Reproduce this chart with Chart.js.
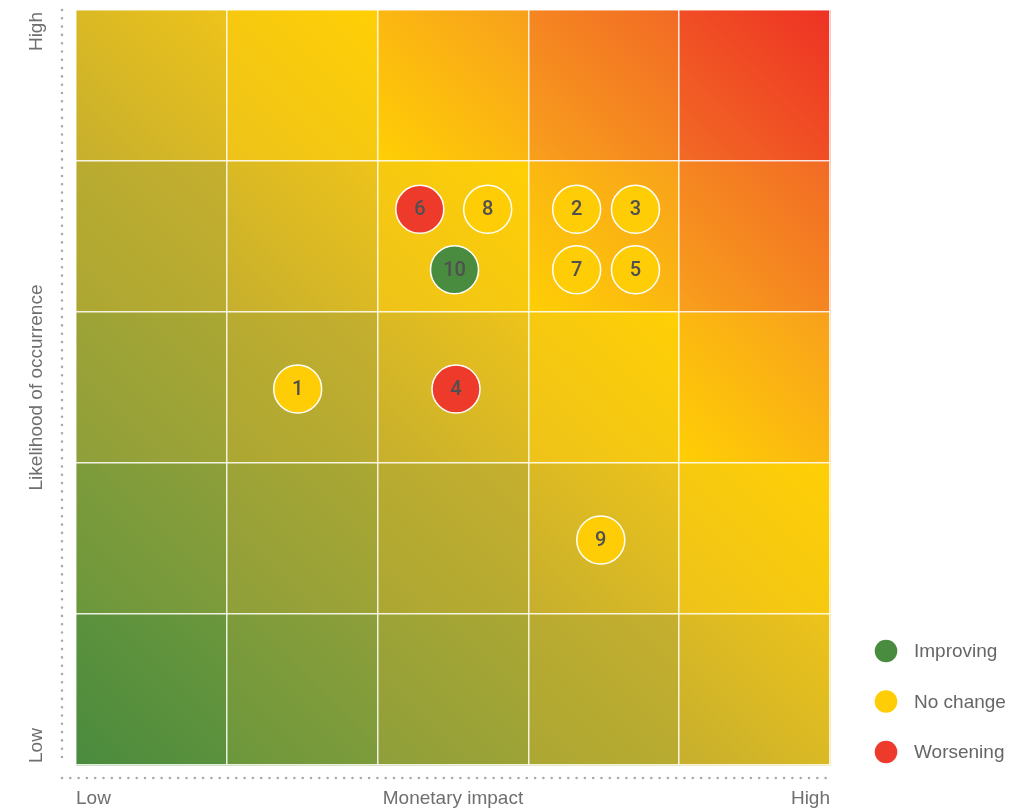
<!DOCTYPE html>
<html>
<head>
<meta charset="utf-8">
<script src="https://cdn.jsdelivr.net/npm/chart.js@4.4.0/dist/chart.umd.min.js"></script>
<style>
  html, body { margin: 0; padding: 0; background: #fff; }
  #wrap { width: 1026px; height: 811px; }
</style>
</head>
<body>
<div id="wrap"><canvas id="matrix" width="1026" height="811"></canvas></div>
<script>
// risk ids and their position on the matrix (0-5 on both axes)
var riskIds = ['1', '2', '3', '4', '5', '6', '7', '8', '9', '10'];
var impact = [1.47, 3.32, 3.71, 2.52, 3.71, 2.28, 3.32, 2.73, 3.48, 2.51];
var likelihood = [2.49, 3.68, 3.68, 2.49, 3.28, 3.68, 3.28, 3.68, 1.49, 3.28];
var trend = ['No change', 'No change', 'No change', 'Worsening', 'No change',
             'Worsening', 'No change', 'No change', 'No change', 'Improving'];

var trendNames = ['Improving', 'No change', 'Worsening'];
var trendColors = ['#4a8c3f', '#ffcd05', '#ee3a2a'];

var axisLow = 'Low';
var axisHigh = 'High';
var xTitle = 'Monetary impact';
var yTitle = 'Likelihood of occurrence';

// colour steps for the heat cells, from green (low/low) to red (high/high)
var heat = ['#4a8b3e', '#6b973c', '#8e9f3a', '#aba733', '#c6af2e',
            '#eec31a', '#ffcf05', '#f8a01c', '#f26a25', '#ee3224'];

var textFont = '"Helvetica Neue", "Liberation Sans", Arial, sans-serif';

// one dataset per trend so colours follow the legend
var datasets = trendNames.map(function (name, k) {
  var pts = [];
  for (var i = 0; i < riskIds.length; i++) {
    if (trend[i] === name) pts.push({ x: impact[i], y: likelihood[i], id: riskIds[i] });
  }
  return {
    label: name,
    data: pts,
    backgroundColor: trendColors[k],
    borderColor: '#ffffff',
    borderWidth: 1.5,
    pointRadius: 24,
    pointHoverRadius: 24
  };
});

var matrixPlugin = {
  id: 'matrix',
  beforeDraw: function (chart) {
    var ctx = chart.ctx, xs = chart.scales.x, ys = chart.scales.y;
    ctx.save();
    for (var c = 0; c < 5; c++) {
      for (var r = 0; r < 5; r++) {
        var x0 = xs.getPixelForValue(c), x1 = xs.getPixelForValue(c + 1);
        var y0 = ys.getPixelForValue(r + 1), y1 = ys.getPixelForValue(r);
        var s = c + r;
        var g = ctx.createLinearGradient(x0, y1, x1, y0);
        g.addColorStop(0, heat[s]);
        g.addColorStop(1, heat[s + 1]);
        ctx.fillStyle = g;
        ctx.fillRect(x0, y0, x1 - x0 + 0.5, y1 - y0 + 0.5);
      }
    }
    ctx.restore();
  },
  afterDatasetsDraw: function (chart) {
    var ctx = chart.ctx;
    ctx.save();
    ctx.fillStyle = '#505050';
    ctx.font = '500 20px Roboto, ' + textFont;
    ctx.textAlign = 'center';
    ctx.textBaseline = 'middle';
    chart.data.datasets.forEach(function (ds, i) {
      var meta = chart.getDatasetMeta(i);
      meta.data.forEach(function (el, j) {
        ctx.fillText(ds.data[j].id, el.x, el.y + 1);
      });
    });
    ctx.restore();
  },
  afterDraw: function (chart) {
    var ctx = chart.ctx, a = chart.chartArea;
    ctx.save();
    // dotted axes
    ctx.strokeStyle = '#aaaaaa';
    ctx.lineWidth = 2.6;
    ctx.lineCap = 'round';
    ctx.setLineDash([0, 8.3]);
    ctx.beginPath();
    ctx.moveTo(62, a.top);
    ctx.lineTo(62, a.bottom);
    ctx.stroke();
    ctx.beginPath();
    ctx.moveTo(62, a.bottom + 13);
    ctx.lineTo(a.right, a.bottom + 13);
    ctx.stroke();
    ctx.setLineDash([]);

    // axis text
    ctx.fillStyle = '#6f6f6f';
    ctx.font = '19px ' + textFont;
    ctx.textBaseline = 'middle';
    ctx.textAlign = 'left';
    ctx.fillText(axisLow, a.left, a.bottom + 34);
    ctx.textAlign = 'center';
    ctx.fillText(xTitle, (a.left + a.right) / 2, a.bottom + 34);
    ctx.textAlign = 'right';
    ctx.fillText(axisHigh, a.right, a.bottom + 34);

    ctx.save();
    ctx.translate(37, 0);
    ctx.rotate(-Math.PI / 2);
    ctx.textAlign = 'right';
    ctx.fillText(axisHigh, -a.top - 2, 0);
    ctx.textAlign = 'center';
    ctx.fillText(yTitle, -(a.top + a.bottom) / 2, 0);
    ctx.textAlign = 'left';
    ctx.fillText(axisLow, -a.bottom + 2, 0);
    ctx.restore();

    // legend
    ctx.textAlign = 'left';
    chart.data.datasets.forEach(function (ds, i) {
      var ly = 651 + i * 50.5;
      ctx.beginPath();
      ctx.arc(886, ly, 11.3, 0, Math.PI * 2);
      ctx.fillStyle = ds.backgroundColor;
      ctx.fill();
      ctx.fillStyle = '#666666';
      ctx.fillText(ds.label, 914, ly + 1);
    });
    ctx.restore();
  }
};

var ctx = document.getElementById('matrix').getContext('2d');

new Chart(ctx, {
  type: 'scatter',
  data: { datasets: datasets },
  options: {
    responsive: false,
    animation: false,
    events: [],
    layout: { autoPadding: false, padding: { left: 76, top: 10, right: 196, bottom: 46 } },
    scales: {
      x: {
        type: 'linear', min: 0, max: 5,
        ticks: { display: false, stepSize: 1 },
        grid: { color: 'rgba(255,255,255,0.85)', lineWidth: 1.5, drawTicks: false },
        border: { display: false }
      },
      y: {
        type: 'linear', min: 0, max: 5,
        ticks: { display: false, stepSize: 1 },
        grid: { color: 'rgba(255,255,255,0.85)', lineWidth: 1.5, drawTicks: false },
        border: { display: false }
      }
    },
    plugins: {
      legend: { display: false },
      tooltip: { enabled: false }
    }
  },
  plugins: [matrixPlugin]
});
</script>
</body>
</html>
